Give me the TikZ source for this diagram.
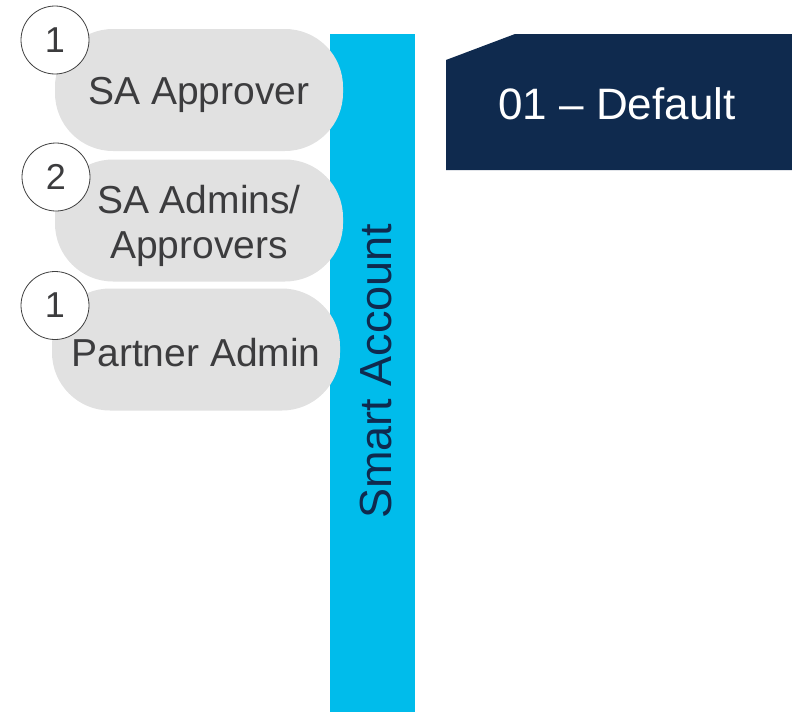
\documentclass[tikz,border=0pt]{standalone}
\usepackage{fontspec}
\setmainfont{Liberation Sans}
\definecolor{sablue}{HTML}{00BCEB}
\definecolor{navy}{HTML}{0F2A4E}
\definecolor{pillgray}{HTML}{E1E1E1}
\definecolor{txtgray}{HTML}{3C3C3E}
\definecolor{ringgray}{HTML}{404040}
\begin{document}
\begin{tikzpicture}[x=1pt,y=-1pt,
  barbox/.style={fill=sablue,inner sep=0pt,minimum width=85pt,minimum height=678pt},
  pill/.style={fill=pillgray,rounded corners=58pt,minimum width=288pt,minimum height=122pt,inner sep=0pt},
  pilltext/.style={align=center,text=txtgray,inner sep=0pt,font=\fontsize{39}{45}\selectfont},
  num/.style={circle,draw=ringgray,line width=0.8pt,fill=white,minimum size=68pt,inner sep=0pt,text=txtgray,font=\fontsize{36}{40}\selectfont},
  vlabel/.style={rotate=90,text=navy,font=\fontsize{45}{50}\selectfont},
  title/.style={text=white,font=\fontsize{44}{48}\selectfont}]
\useasboundingbox (0,0) rectangle (792,712);
\node[barbox] (bar) at (372.5,373) {};
\node[vlabel] (sa) at (376,371) {Smart Account};
\node[pill] (p1) at (199,90) {};
\node[pill] (p2) at (199,220.5) {};
\node[pill] (p3) at (196,349.5) {};
\node[pilltext] (t1) at (199,95) {SA Approver};
\node[pilltext] (t2) at (199,226) {SA Admins/\\Approvers};
\node[pilltext] (t3) at (196,353) {Partner Admin};
\node[num] (n1) at (55,40) {1};
\node[num] (n2) at (56,177) {2};
\node[num] (n3) at (55,305.5) {1};
\coordinate (b1) at (446,60);
\coordinate (b2) at (515,34);
\coordinate (b3) at (792,34);
\coordinate (b4) at (792,170);
\coordinate (b5) at (446,170);
\fill[navy] (b1) -- (b2) -- (b3) -- (b4) -- (b5) -- cycle;
\node[title] (def) at (617,104) {01 – Default};
\end{tikzpicture}
\end{document}
